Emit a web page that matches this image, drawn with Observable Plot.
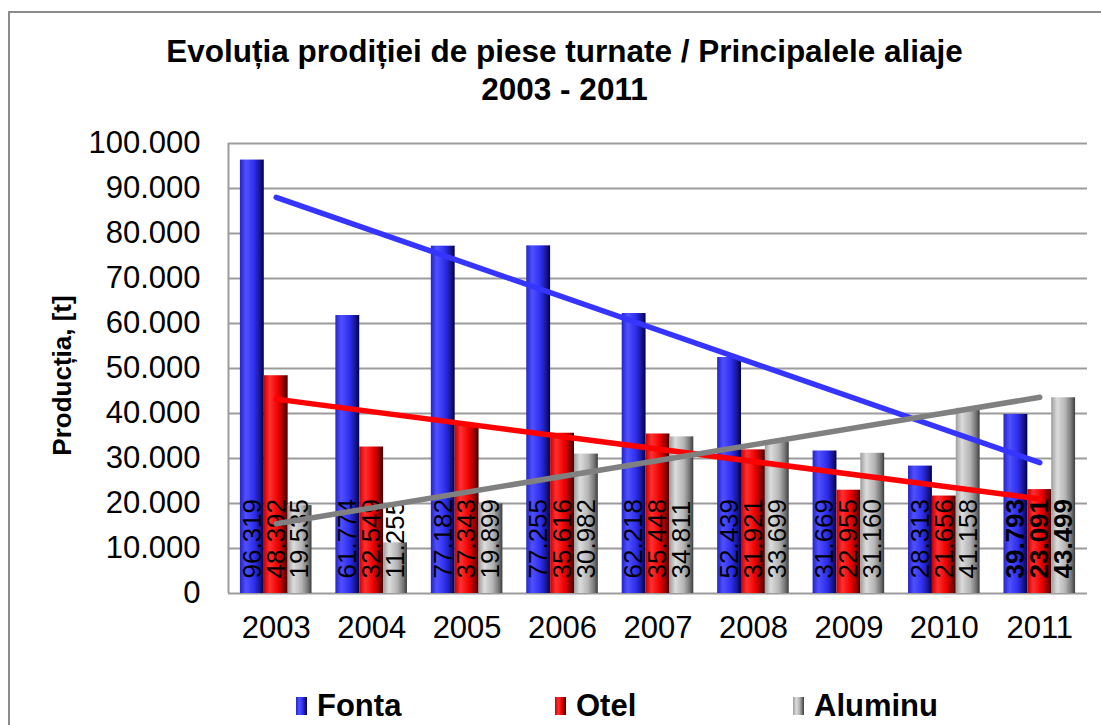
<!DOCTYPE html>
<html><head><meta charset="utf-8">
<script src="https://cdn.jsdelivr.net/npm/d3@7"></script>
<script src="https://cdn.jsdelivr.net/npm/@observablehq/plot@0.6"></script>
<style>
body{margin:0;width:1101px;height:725px;overflow:hidden;background:#fff;font-family:"Liberation Sans",Arial,sans-serif;position:relative}
#frame{position:absolute;left:8px;top:11px;width:1200px;height:800px;border:2px solid #8c8c8c;box-sizing:border-box}
#chart{position:absolute;left:0;top:0}
#title{position:absolute;left:14px;width:1101px;top:32px;text-align:center;font-weight:bold;font-size:31.5px;line-height:38px;color:#000}
.leg{position:absolute;top:689px;font-weight:bold;font-size:31px;line-height:34px;color:#000;display:flex;align-items:center}
.sw{display:inline-block;width:11px;height:18px;margin-right:10px}
</style></head>
<body>
<div id="frame"></div>
<div id="chart"></div>
<div id="title">Evoluția prodiției de piese turnate / Principalele aliaje<br>2003 - 2011</div>
<div id="legend"></div>
<script>
const years = [2003, 2004, 2005, 2006, 2007, 2008, 2009, 2010, 2011];
const seriesNames = ["Fonta", "Otel", "Aluminu"];
const fonta   = [96319, 61774, 77182, 77255, 62218, 52439, 31669, 28313, 39793];
const otel    = [48392, 32549, 37343, 35616, 35448, 31921, 22955, 21656, 23091];
const aluminu = [19535, 11255, 19899, 30982, 34811, 33699, 31160, 41158, 43499];
const yTicks = [0, 10000, 20000, 30000, 40000, 50000, 60000, 70000, 80000, 90000, 100000];

const barColors = [
  ["#2424c8", "#5050ff", "#2e2eee", "#15158c", "#000048"],
  ["#c80000", "#ff3030", "#ee0000", "#8c0000", "#400000"],
  ["#9c9c9c", "#dcdcdc", "#b4b4b4", "#747474", "#3c3c3c"]
];
const trendColors = ["#3535ff", "#ff0000", "#808080"];

const values = [fonta, otel, aluminu];
const rows = [];
years.forEach((yr, i) => values.forEach((arr, k) => rows.push({year: yr, k, series: seriesNames[k], value: arr[i]})));

const loc = d3.formatLocale({decimal: ",", thousands: ".", grouping: [3], currency: ["", ""]});
const fmt = loc.format(",d");
const bw = 0.25;
const x1 = d => d.year - 1.5 * bw + d.k * bw;
const x2 = d => d.year - 1.5 * bw + (d.k + 1) * bw;
const xc = d => d.year - 1.5 * bw + (d.k + 0.5) * bw;

const marks = [
  Plot.ruleY(yTicks, {stroke: "#9c9c9c", strokeWidth: 2}),
  Plot.ruleX([2002.5], {stroke: "#9c9c9c", strokeWidth: 2})
];
[0, 1, 2].forEach(k => {
  marks.push(Plot.rectY(rows.filter(d => d.k === k), {x1, x2, y1: 0, y2: "value", fill: `url(#g${k})`, inset: 0}));
});
marks.push(Plot.text(rows.filter(d => d.year !== 2011), {x: xc, y: 0, text: d => fmt(d.value), rotate: -90, textAnchor: "start", lineAnchor: "middle", dy: -15, fontSize: 26, fill: "black"}));
marks.push(Plot.text(rows.filter(d => d.year === 2011), {x: xc, y: 0, text: d => fmt(d.value), rotate: -90, textAnchor: "start", lineAnchor: "middle", dy: -15, fontSize: 26, fontWeight: "bold", fill: "black"}));
[0, 1, 2].forEach(k => {
  marks.push(Plot.linearRegressionY(rows.filter(d => d.k === k), {x: "year", y: "value", stroke: trendColors[k], strokeWidth: 5.5, ci: 0, strokeLinecap: "round"}));
});
marks.push(Plot.axisY({ticks: yTicks, tickSize: 0, tickPadding: 28, tickFormat: fmt, fontSize: 31, label: null, fill: "black"}));
marks.push(Plot.axisX({ticks: years, tickSize: 0, tickPadding: 22, tickFormat: d => String(d), fontSize: 31, label: null, fill: "black"}));
marks.push(Plot.text(["Producția, [t]"], {frameAnchor: "left", text: d => d, rotate: -90, textAnchor: "middle", lineAnchor: "middle", dx: -166, dy: 7, fontSize: 26, fontWeight: "bold", fill: "black"}));

const svg = Plot.plot({
  width: 1101, height: 725,
  marginLeft: 228, marginRight: 14, marginTop: 143, marginBottom: 132,
  x: {type: "linear", domain: [2002.5, 2011.5]},
  y: {domain: [0, 100000]},
  style: {fontFamily: '"Liberation Sans", Arial, sans-serif', background: "transparent", overflow: "visible"},
  marks
});

const defs = d3.select(svg).insert("defs", ":first-child");
barColors.forEach((c, k) => {
  const g = defs.append("linearGradient").attr("id", `g${k}`).attr("x1", "0").attr("x2", "1").attr("y1", "0").attr("y2", "0");
  [0, 0.25, 0.6, 0.85, 1].forEach((o, j) => g.append("stop").attr("offset", o).attr("stop-color", c[j]));
});
document.getElementById("chart").appendChild(svg);

const legendPos = [296, 555, 793];
const leg = document.getElementById("legend");
seriesNames.forEach((name, k) => {
  const item = document.createElement("div");
  item.className = "leg";
  item.style.left = legendPos[k] + "px";
  const sw = document.createElement("span");
  sw.className = "sw";
  sw.style.background = `linear-gradient(to right, ${barColors[k][0]}, ${barColors[k][1]} 30%, ${barColors[k][2]} 60%, ${barColors[k][4]})`;
  item.appendChild(sw);
  item.appendChild(document.createTextNode(name));
  leg.appendChild(item);
});
</script>
</body></html>
